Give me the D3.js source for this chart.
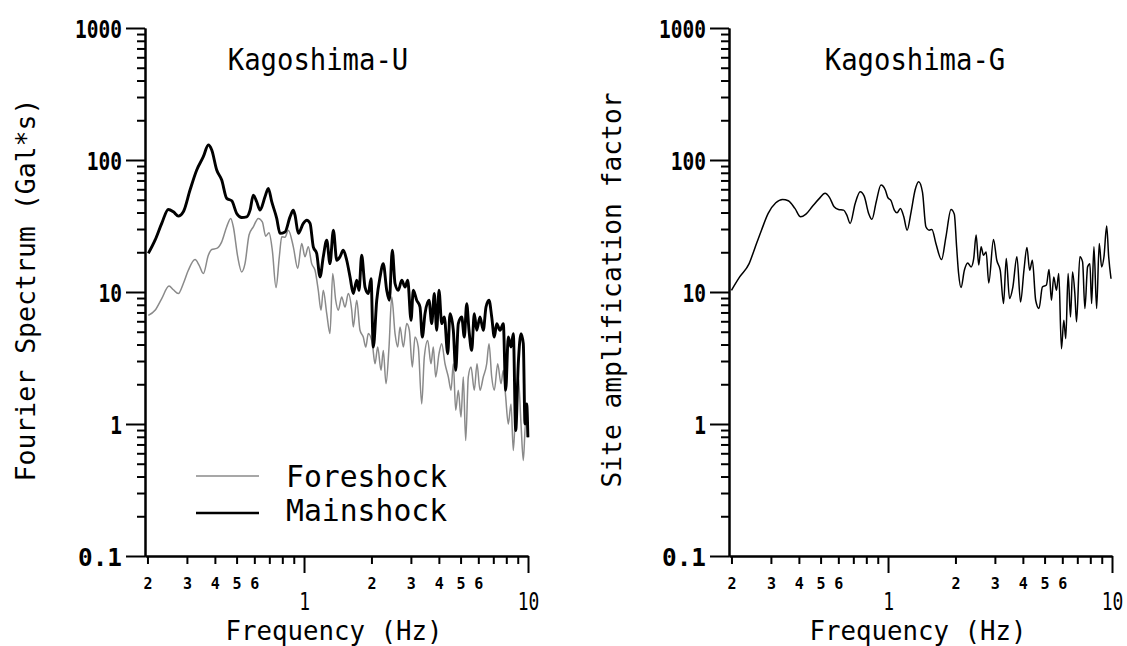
<!DOCTYPE html>
<html>
<head>
<meta charset="utf-8">
<script src="https://cdn.jsdelivr.net/npm/d3@7"></script>
<style>
  html, body { margin: 0; padding: 0; background: #fff; }
  svg { display: block; }
  text { font-family: "DejaVu Sans Mono", "Liberation Mono", monospace; fill: #000; }
</style>
</head>
<body>
<svg id="chart" width="1127" height="646"></svg>
<script>
// ---------------- DATA ----------------
const panelTitles = ["Kagoshima-U", "Kagoshima-G"];
const yTitles = ["Fourier Spectrum (Gal*s)", "Site amplification factor"];
const xTitle = "Frequency (Hz)";
const seriesNames = ["Foreshock", "Mainshock"];

const yMajorTicks = [0.1, 1, 10, 100, 1000];
const yMajorLabels = ["0.1", "1", "10", "100", "1000"];
const xMajorTicks = [1, 10];
const xMajorLabels = ["1", "10"];
const xMinorTicks = [0.2, 0.3, 0.4, 0.5, 0.6, 0.7, 0.8, 0.9, 2, 3, 4, 5, 6, 7, 8, 9];
const xMinorLabels = ["2", "3", "4", "5", "6", "", "", "", "2", "3", "4", "5", "6", "", "", ""];

// Foreshock Fourier spectrum (Kagoshima-U)
const foreFreq = [
  0.2018,0.2162,0.2316,0.2496,0.2610,0.2747,0.2892,0.3044,0.3262,0.3398,
  0.3552,0.3739,0.3873,0.4076,0.4291,0.4517,0.4708,0.4835,0.5058,0.5269,
  0.5451,0.5682,0.5938,0.6252,0.6514,0.6745,0.6979,0.7219,0.7499,0.7758,
  0.7953,0.8228,0.8509,0.8960,0.9373,0.9766,1.010,1.045,1.082,1.120,
  1.158,1.191,1.219,1.263,1.306,1.343,1.385,1.422,1.473,1.524,
  1.577,1.633,1.660,1.719,1.778,1.839,1.886,1.937,2.018,2.075,
  2.133,2.207,2.259,2.323,2.396,2.464,2.549,2.620,2.683,2.776,
  2.874,2.952,3.044,3.130,3.237,3.353,3.444,3.566,3.690,3.778,
  3.871,4.006,4.118,4.261,4.409,4.533,4.640,4.756,4.885,5.022,
  5.142,5.270,5.413,5.566,5.758,5.920,6.105,6.315,6.541,6.698,
  6.887,7.073,7.323,7.577,7.757,7.951,8.166,8.397,8.598,8.813,
  9.050,9.307,9.529,9.766,9.99
];
const foreAmp = [
  6.66,7.27,8.92,11.1,10.4,9.73,11.6,14.6,17.6,16.0,
  13.8,19.0,21.0,21.4,24.0,31.2,36.1,31.2,18.5,14.2,
  16.4,27.0,31.2,36.1,34.0,26.5,28.1,20.7,10.8,18.5,
  26.2,26.0,29.4,22.0,15.1,23.3,18.5,22.0,16.4,14.6,
  10.3,7.27,10.3,6.86,4.84,13.8,8.66,7.27,9.17,7.70,
  9.73,7.27,5.43,8.66,5.13,4.56,3.83,4.84,4.06,2.86,
  3.83,2.55,3.61,2.02,3.83,9.17,4.84,3.83,5.43,3.83,
  5.76,5.13,2.70,4.56,3.83,1.42,3.21,4.30,2.86,3.83,
  2.27,3.41,4.06,2.86,2.27,1.80,2.86,1.27,1.80,1.13,
  2.27,0.75,2.27,2.70,1.80,2.86,1.80,2.27,2.86,4.06,
  2.27,1.80,2.86,2.02,2.55,1.60,1.00,1.42,0.63,1.34,
  2.27,1.00,0.53,1.06,0.79
];

// Mainshock Fourier spectrum (Kagoshima-U)
const mainFreq = [
  0.2018,0.2162,0.2316,0.2478,0.2610,0.2747,0.2892,0.3098,0.3319,0.3552,
  0.3739,0.3873,0.4076,0.4291,0.4517,0.4756,0.5005,0.5269,0.5547,0.5741,
  0.5938,0.6148,0.6361,0.6696,0.6927,0.7175,0.7553,0.7814,0.8228,0.8660,
  0.8960,0.9116,0.9432,0.9929,1.028,1.064,1.100,1.139,1.179,1.219,
  1.263,1.306,1.352,1.400,1.448,1.497,1.551,1.605,1.660,1.719,
  1.760,1.809,1.872,1.937,1.991,2.039,2.112,2.185,2.259,2.340,
  2.403,2.479,2.549,2.636,2.731,2.825,2.904,3.004,3.076,3.185,
  3.295,3.374,3.469,3.614,3.716,3.817,3.912,4.006,4.118,4.230,
  4.381,4.486,4.640,4.756,4.885,5.058,5.195,5.325,5.452,5.606,
  5.758,5.902,6.105,6.315,6.494,6.698,6.887,7.073,7.250,7.499,
  7.757,7.951,8.166,8.397,8.598,8.813,9.050,9.307,9.529,9.696,9.867,9.99
];
const mainAmp = [
  19.6,24.7,33.1,42.2,40.5,37.6,40.5,59.2,84.0,105.9,
  130.0,119.1,84.0,70.5,51.2,49.1,39.4,36.7,37.1,41.7,
  54.2,48.3,41.7,52.7,61.0,48.3,36.1,27.8,28.5,37.1,
  41.7,38.2,27.8,33.1,35.0,33.1,22.0,19.6,13.0,18.5,
  24.7,16.4,29.4,17.4,18.5,20.7,17.4,13.0,9.73,12.3,
  10.3,19.0,10.9,9.73,12.6,3.83,8.66,13.0,16.4,10.3,
  8.66,20.7,11.6,10.3,12.3,10.9,12.3,6.11,10.3,8.66,
  7.70,4.56,6.86,8.66,5.76,9.73,5.13,10.3,5.76,6.47,
  3.41,6.86,5.13,2.55,5.76,6.47,4.56,8.17,5.13,3.61,
  6.86,5.13,6.47,5.13,7.70,8.66,6.47,4.56,5.76,5.13,
  5.76,1.80,4.56,3.83,4.84,0.893,2.86,4.84,4.06,1.00,1.42,0.794
];

// Site amplification factor (Kagoshima-G)
const siteFreq = [
  0.2000,0.2176,0.2398,0.2541,0.2723,0.2917,0.3155,0.3381,0.3587,0.3840,
  0.4073,0.4301,0.4610,0.4940,0.5233,0.5476,0.5745,0.6010,0.6328,0.6549,
  0.6776,0.7135,0.7513,0.7828,0.8194,0.8479,0.8860,0.9302,0.9725,0.997,
  1.032,1.067,1.097,1.136,1.176,1.217,1.268,1.321,1.370,1.425,
  1.476,1.527,1.570,1.636,1.734,1.814,1.911,1.977,2.024,2.066,
  2.118,2.192,2.268,2.349,2.413,2.474,2.541,2.604,2.667,2.742,
  2.817,2.957,3.059,3.170,3.279,3.372,3.488,3.609,3.762,3.907,
  4.044,4.171,4.289,4.410,4.563,4.721,4.889,5.095,5.234,5.365,
  5.494,5.649,5.785,5.948,6.092,6.218,6.368,6.528,6.665,6.825,
  6.946,7.187,7.390,7.567,7.781,7.968,8.110,8.305,8.539,8.770,
  8.991,9.207,9.467,9.665,9.90
];
const siteAmp = [
  10.3,13.0,16.4,21.4,29.4,39.4,47.4,50.3,49.1,43.0,
  37.1,38.9,44.8,51.2,55.9,52.1,44.2,42.2,41.7,38.2,
  33.1,46.9,57.5,53.3,39.4,35.5,48.3,64.6,59.2,52.1,
  49.1,41.7,39.8,43.0,37.1,29.4,40.5,59.2,68.4,57.2,
  31.2,29.4,29.8,23.3,17.6,26.2,42.2,38.9,22.0,13.8,
  10.8,14.6,16.6,15.5,17.9,27.0,16.0,22.0,19.0,20.1,
  11.7,25.0,17.4,14.6,8.17,17.9,8.92,10.9,18.5,8.40,
  14.6,21.7,14.6,17.4,8.66,7.49,10.9,11.3,14.8,8.66,
  13.0,10.3,13.8,3.72,6.11,4.43,13.8,6.47,14.2,9.73,
  5.93,18.5,16.9,7.49,15.5,16.4,8.17,22.0,7.49,23.3,
  15.5,18.5,31.6,18.5,12.6
];

// ---------------- DRAW ----------------
const svg = d3.select("#chart");
const yTop = 28, yBottom = 556;
const panels = [
  { x0: 145, x1: 528, title: panelTitles[0], titleX: 318, yTitle: yTitles[0], yTitleX: 35, yTitleLen: 383,
    xTitleX: 334, series: [
      { f: foreFreq, a: foreAmp, color: "#8a8a8a", width: 1.5 },
      { f: mainFreq, a: mainAmp, color: "#000", width: 2.9 } ] },
  { x0: 729, x1: 1112, title: panelTitles[1], titleX: 915, yTitle: yTitles[1], yTitleX: 621, yTitleLen: 395,
    xTitleX: 918, series: [
      { f: siteFreq, a: siteAmp, color: "#000", width: 1.5 } ] }
];

function fit(sel, perChar) {
  sel.each(function() {
    const t = d3.select(this).text();
    if (!t) return;
    const w = t === "0.1" ? 44 : t.length * perChar;
    d3.select(this).attr("textLength", w).attr("lengthAdjust", "spacingAndGlyphs");
  });
}

const yMinorTicks = [];
[0.1, 1, 10, 100].forEach(d => { for (let m = 2; m <= 9; m++) yMinorTicks.push(+(m * d).toPrecision(3)); });

panels.forEach(p => {
  const x = d3.scaleLog().domain([0.195, 10]).range([p.x0, p.x1]);
  const y = d3.scaleLog().domain([0.1, 1000]).range([yBottom, yTop]);
  const g = svg.append("g");

  // curves
  const line = d3.line().x(d => x(d[0])).y(d => y(d[1])).curve(d3.curveMonotoneX);
  p.series.forEach(s => {
    g.append("path").datum(d3.zip(s.f, s.a))
      .attr("d", line).attr("fill", "none")
      .attr("stroke", s.color).attr("stroke-width", s.width)
      .attr("stroke-linejoin", "round");
  });

  // y axis: minor then major
  g.append("g").attr("transform", `translate(${p.x0},0)`)
    .call(d3.axisLeft(y).tickValues(yMinorTicks).tickSize(8).tickSizeOuter(0).tickFormat(""));
  const yMaj = g.append("g").attr("transform", `translate(${p.x0},0)`)
    .call(d3.axisLeft(y).tickValues(yMajorTicks).tickSize(19).tickSizeOuter(0).tickPadding(4)
      .tickFormat((d, i) => yMajorLabels[i]));
  yMaj.selectAll("text").attr("font-size", 25).attr("font-weight", "bold")
    .attr("font-family", "DejaVu Sans Mono").call(fit, 11.75).attr("dy", "0.36em");

  // x axis
  const xMinor = g.append("g").attr("transform", `translate(0,${yBottom})`)
    .call(d3.axisBottom(x).tickValues(xMinorTicks).tickSize(8).tickSizeOuter(0)
      .tickFormat((d, i) => xMinorLabels[i]));
  xMinor.selectAll("text").attr("font-size", 15).attr("font-weight", "bold")
    .attr("font-family", "DejaVu Sans Mono").attr("y", 33).attr("dy", null);
  const xMaj = g.append("g").attr("transform", `translate(0,${yBottom})`)
    .call(d3.axisBottom(x).tickValues(xMajorTicks).tickSize(17).tickSizeOuter(0)
      .tickFormat((d, i) => xMajorLabels[i]));
  xMaj.selectAll("text").attr("font-size", 24).attr("font-family", "DejaVu Sans Mono")
    .attr("y", 54).attr("dy", null).call(fit, 10.8);

  g.selectAll(".domain, .tick line").attr("stroke", "#000").attr("stroke-width", 2);

  // titles
  g.append("text").attr("x", p.titleX).attr("y", 70).attr("text-anchor", "middle")
    .attr("font-size", 31).text(p.title).call(fit, 16.4);
  g.append("text").attr("x", p.xTitleX).attr("y", 640).attr("text-anchor", "middle")
    .attr("font-size", 27).text(xTitle).call(fit, 15.5);
  g.append("text").attr("transform", `translate(${p.yTitleX},290) rotate(-90)`)
    .attr("text-anchor", "middle").attr("font-size", 27).text(p.yTitle)
    .attr("textLength", p.yTitleLen).attr("lengthAdjust", "spacingAndGlyphs");
});

// legend (left panel)
const legendColors = ["#8a8a8a", "#000"];
const legendWidths = [1.5, 2.6];
const legLineY = [476, 513];
const legTextY = [487, 521];
const leg = svg.append("g");
seriesNames.forEach((name, i) => {
  leg.append("line").attr("x1", 196).attr("x2", 259).attr("y1", legLineY[i]).attr("y2", legLineY[i])
    .attr("stroke", legendColors[i]).attr("stroke-width", legendWidths[i]);
  leg.append("text").attr("x", 286).attr("y", legTextY[i])
    .attr("font-size", 30).text(name).call(fit, 17.9);
});
</script>
</body>
</html>
